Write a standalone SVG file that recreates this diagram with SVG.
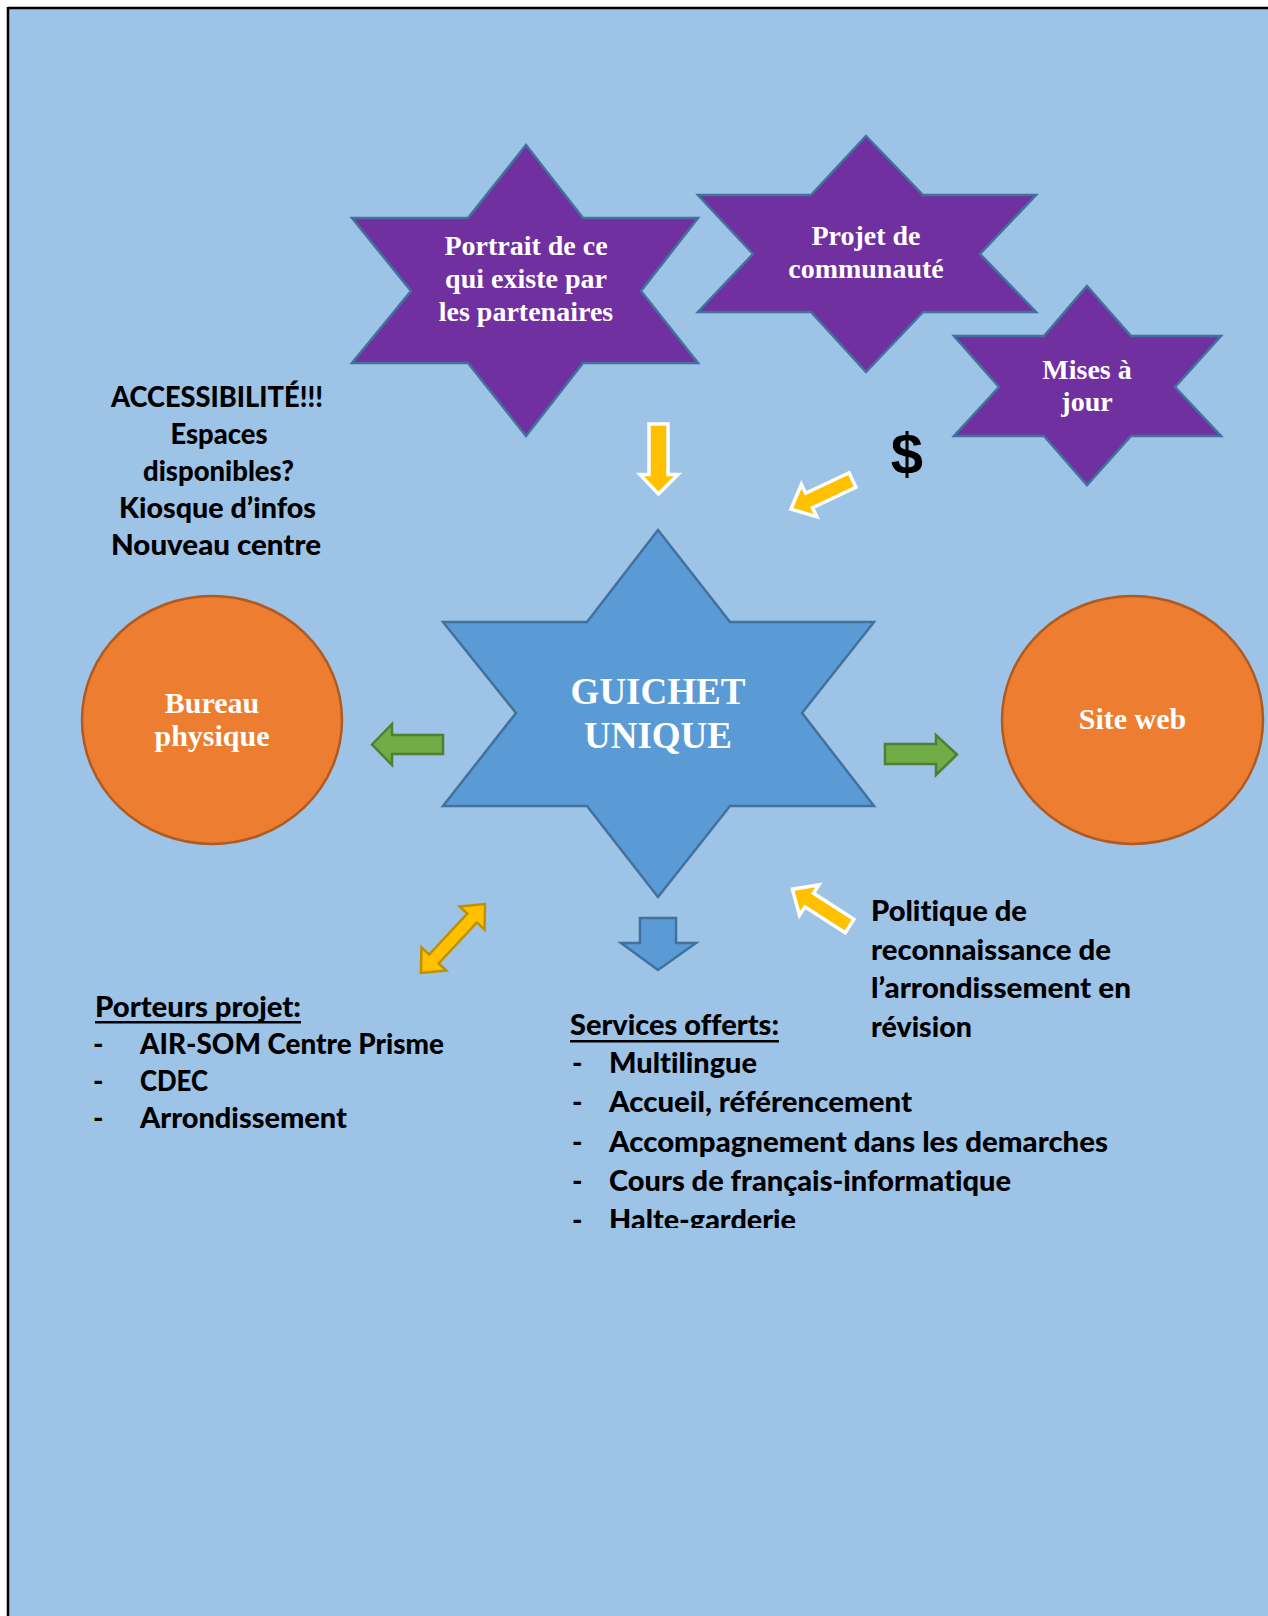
<svg xmlns="http://www.w3.org/2000/svg" width="1268" height="1616" viewBox="0 0 1268 1616">
<defs>
<style>
.purple{fill:#7030A0;stroke:#41719C;stroke-width:2.5;stroke-linejoin:miter}
.blue{fill:#5B9BD5;stroke:#41719C;stroke-width:2.5}
.orange{fill:#ED7D31;stroke:#AE5A21;stroke-width:2.5}
.green{fill:#70AD47;stroke:#507E32;stroke-width:2.5}
.yellow{fill:#FFC000;stroke:#FFFFFF;stroke-width:3.5}
.gold{fill:#FFC000;stroke:#BF9000;stroke-width:2.5}
.st{font-family:"Liberation Serif","Times New Roman",serif;font-weight:bold;fill:#FFFFFF;text-anchor:middle}
.bt{font-family:Lato,"Liberation Sans",sans-serif;font-weight:900;font-size:28px;fill:#000000;font-variant-ligatures:none}
.mid{text-anchor:middle}
</style>
<clipPath id="svcclip"><rect x="0" y="0" width="1268" height="1228"/></clipPath>
</defs>
<rect x="0" y="0" width="1268" height="1616" fill="#FFFFFF"/>
<rect x="8" y="8" width="1262" height="1610" fill="#9DC3E6"/>
<line x1="8" y1="8" x2="1268" y2="8" stroke="#000000" stroke-width="2.5"/>
<line x1="8" y1="7" x2="8" y2="1616" stroke="#000000" stroke-width="2.5"/>

<g id="connectors">
<path class="yellow" d="M649,424 L668,424 L668,474.5 L678,474.5 L658.5,494 L640,474.5 L649,474.5 Z"/>
<path class="yellow" transform="translate(852.5,480) rotate(154.7)" d="M0,-8 L48,-8 L48,-18 L68,0 L48,18 L48,8 L0,8 Z"/>
<path class="yellow" transform="translate(849.6,926) rotate(212.7)" d="M0,-8 L48,-8 L48,-18 L68,0 L48,18 L48,8 L0,8 Z"/>
<path class="gold" transform="translate(453,938.5) rotate(-47)" d="M-47,0 L-28,-17 L-28,-6.5 L28,-6.5 L28,-17 L47,0 L28,17 L28,6.5 L-28,6.5 L-28,17 Z"/>
<path class="blue" d="M640,918 L676,918 L676,943 L696,943 L658,970 L621,943 L640,943 Z"/>
<path class="green" d="M372,744.5 L392,724 L392,735 L443,735 L443,754 L392,754 L392,765 Z"/>
<path class="green" d="M885,744 L936,744 L936,735 L957,754.5 L936,775 L936,764 L885,764 Z"/>
</g>

<g id="star-portrait">
<polygon class="purple" points="526,145 583,218 698,218 641,291 698,363 583,363 526,436 468,363 352,363 411,291 352,218 468,218"/>
<text class="st" font-size="28" x="526" y="255">Portrait de ce</text>
<text class="st" font-size="28" x="526" y="288">qui existe par</text>
<text class="st" font-size="28" x="526" y="321">les partenaires</text>
</g>

<g id="star-projet">
<polygon class="purple" points="866,136 923,195 1036,195 980,254 1036,312 923,312 866,372 811,312 698,312 753,254 698,195 811,195"/>
<text class="st" font-size="28" x="866" y="245">Projet de</text>
<text class="st" font-size="28" x="866" y="278">communauté</text>
</g>

<g id="star-mises">
<polygon class="purple" points="1087,286 1131,336 1221,336 1175,387 1221,436 1131,436 1087,485 1044,436 954,436 999,387 954,336 1044,336"/>
<text class="st" font-size="28" x="1087" y="379">Mises à</text>
<text class="st" font-size="28" x="1087" y="411">jour</text>
</g>

<g id="star-guichet">
<polygon class="blue" points="658,530 730,622 874,622 802,713 874,806 730,806 658,897 587,806 443,806 516,713 443,622 587,622"/>
<text class="st" font-size="37" x="658" y="704">GUICHET</text>
<text class="st" font-size="37" x="658" y="748">UNIQUE</text>
</g>

<g id="circle-bureau">
<ellipse class="orange" cx="212" cy="720" rx="130" ry="124"/>
<text class="st" font-size="30" x="212" y="713">Bureau</text>
<text class="st" font-size="30" x="212" y="746">physique</text>
</g>

<g id="circle-site">
<ellipse class="orange" cx="1132.5" cy="720" rx="130.5" ry="124"/>
<text class="st" font-size="30" x="1132.5" y="729">Site web</text>
</g>

<g id="dollar">
<text x="907" y="474" font-family="Liberation Sans, Arial, sans-serif" font-weight="bold" font-size="58" text-anchor="middle" fill="#000000">$</text>
</g>

<g id="accessibilite" class="bt">
<text class="mid" x="217" y="407" textLength="212" lengthAdjust="spacingAndGlyphs">ACCESSIBILITÉ!!!</text>
<text class="mid" x="219" y="444" textLength="97" lengthAdjust="spacingAndGlyphs">Espaces</text>
<text class="mid" x="218.5" y="481" textLength="151" lengthAdjust="spacingAndGlyphs">disponibles?</text>
<text class="mid" x="217.5" y="518" textLength="197" lengthAdjust="spacingAndGlyphs">Kiosque d’infos</text>
<text class="mid" x="216" y="555" textLength="210" lengthAdjust="spacingAndGlyphs">Nouveau centre</text>
</g>

<g id="politique" class="bt">
<text x="871" y="921" textLength="156" lengthAdjust="spacingAndGlyphs">Politique de</text>
<text x="871" y="960" textLength="240" lengthAdjust="spacingAndGlyphs">reconnaissance de</text>
<text x="871" y="998" textLength="260" lengthAdjust="spacingAndGlyphs">l’arrondissement en</text>
<text x="871" y="1037" textLength="101" lengthAdjust="spacingAndGlyphs">révision</text>
</g>

<g id="services" class="bt" clip-path="url(#svcclip)">
<text x="570" y="1035" textLength="209" lengthAdjust="spacingAndGlyphs">Services offerts:</text>
<rect x="570" y="1040" width="209" height="2.5" fill="#000000"/>
<text x="572" y="1073">-</text>
<text x="609" y="1073" textLength="148" lengthAdjust="spacingAndGlyphs">Multilingue</text>
<text x="572" y="1112">-</text>
<text x="609" y="1112" textLength="303" lengthAdjust="spacingAndGlyphs">Accueil, référencement</text>
<text x="572" y="1151.5">-</text>
<text x="609" y="1151.5" textLength="499" lengthAdjust="spacingAndGlyphs">Accompagnement dans les demarches</text>
<text x="572" y="1190.5">-</text>
<text x="609" y="1190.5" textLength="402" lengthAdjust="spacingAndGlyphs">Cours de français-informatique</text>
<text x="572" y="1229.5">-</text>
<text x="609" y="1229.5" textLength="187" lengthAdjust="spacingAndGlyphs">Halte-garderie</text>
</g>

<g id="porteurs" class="bt">
<text x="95" y="1017" textLength="206" lengthAdjust="spacingAndGlyphs">Porteurs projet:</text>
<rect x="95" y="1021" width="206" height="2.5" fill="#000000"/>
<text x="93" y="1054">-</text>
<text x="140" y="1054" textLength="304" lengthAdjust="spacingAndGlyphs">AIR-SOM Centre Prisme</text>
<text x="93" y="1091">-</text>
<text x="140" y="1091" textLength="68" lengthAdjust="spacingAndGlyphs">CDEC</text>
<text x="93" y="1128">-</text>
<text x="140" y="1128" textLength="207" lengthAdjust="spacingAndGlyphs">Arrondissement</text>
</g>
</svg>
